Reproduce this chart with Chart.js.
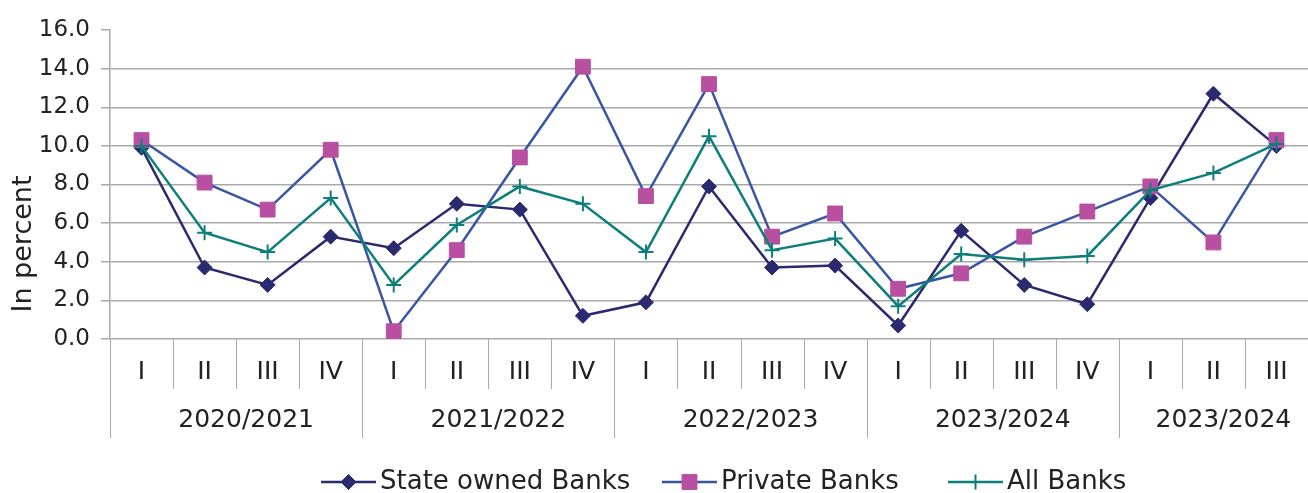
<!DOCTYPE html>
<html>
<head>
<meta charset="utf-8">
<script src="https://cdn.jsdelivr.net/npm/chart.js@4.4.1/dist/chart.umd.min.js"></script>
<style>
html,body{margin:0;padding:0;background:#ffffff;overflow:hidden;}
#wrap{width:1308px;height:493px;position:relative;}
</style>
</head>
<body>
<div id="wrap"><canvas id="c" width="1308" height="493"></canvas></div>
<script>
const quarters = ['I','II','III','IV','I','II','III','IV','I','II','III','IV','I','II','III','IV','I','II','III'];
const groupLabels = ['2020/2021','2021/2022','2022/2023','2023/2024','2023/2024'];
const groupSizes = [4,4,4,4,3];
const stateOwned   = [9.9,3.7,2.8,5.3,4.7,7.0,6.7,1.2,1.9,7.9,3.7,3.8,0.7,5.6,2.8,1.8,7.3,12.7,10.0];
const privateBanks = [10.3,8.1,6.7,9.8,0.4,4.6,9.4,14.1,7.4,13.2,5.3,6.5,2.6,3.4,5.3,6.6,7.9,5.0,10.3];
const allBanks     = [10.0,5.5,4.5,7.3,2.8,5.9,7.9,7.0,4.5,10.5,4.6,5.2,1.7,4.4,4.1,4.3,7.7,8.6,10.1];
const seriesNames  = ['State owned Banks','Private Banks','All Banks'];
const yMin = 0, yMax = 16, yStep = 2;
const yTitle = 'In percent';

const FONT = 'DejaVu Sans';
const TEXT = '#222222';
const GRID = '#a9a9a9';

const groupAxis = {
  id: 'groupAxis',
  afterDraw(chart) {
    const {ctx, chartArea: ca, scales: {x}} = chart;
    const half = (x.getPixelForValue(1) - x.getPixelForValue(0)) / 2;
    ctx.save();
    ctx.strokeStyle = GRID;
    ctx.lineWidth = 1;
    const qBottom = ca.bottom + 50, gBottom = ca.bottom + 99;
    const groupStart = new Set();
    let acc = 0;
    groupSizes.forEach(s => { groupStart.add(acc); acc += s; });
    groupStart.add(acc);
    for (let i = 0; i <= quarters.length; i++) {
      const px = Math.round(x.getPixelForValue(i) - half) + 0.5;
      ctx.beginPath();
      ctx.moveTo(px, ca.bottom);
      ctx.lineTo(px, groupStart.has(i) ? gBottom : qBottom);
      ctx.stroke();
    }
    ctx.fillStyle = TEXT;
    ctx.textAlign = 'center';
    ctx.textBaseline = 'middle';
    ctx.font = '25px "' + FONT + '"';
    quarters.forEach((q, i) => ctx.fillText(q, x.getPixelForValue(i), ca.bottom + 33));
    acc = 0;
    groupLabels.forEach((g, gi) => {
      const a = x.getPixelForValue(acc) - half;
      const b = x.getPixelForValue(acc + groupSizes[gi] - 1) + half;
      ctx.fillText(g, (a + b) / 2 + 10, ca.bottom + 81);
      acc += groupSizes[gi];
    });
    ctx.save();
    ctx.translate(24, ca.bottom - 95);
    ctx.rotate(-Math.PI / 2);
    ctx.font = '27px "' + FONT + '"';
    ctx.fillText(yTitle, 0, 0);
    ctx.restore();
    const legendX = [321, 662, 948];
    const ly = 482;
    chart.data.datasets.forEach((ds, i) => {
      const sx = legendX[i];
      ctx.strokeStyle = ds.borderColor;
      ctx.lineWidth = ds.borderWidth;
      ctx.beginPath();
      ctx.moveTo(sx, ly);
      ctx.lineTo(sx + 55, ly);
      ctx.stroke();
      ctx.fillStyle = ds.pointBackgroundColor;
      ctx.strokeStyle = ds.pointBorderColor;
      ctx.lineWidth = ds.pointBorderWidth;
      Chart.helpers.drawPoint(ctx, {pointStyle: ds.pointStyle, radius: ds.pointRadius, rotation: 0, borderWidth: ds.pointBorderWidth}, sx + 27.5, ly);
      ctx.fillStyle = TEXT;
      ctx.textAlign = 'left';
      ctx.font = '26px "' + FONT + '"';
      ctx.fillText(ds.label, sx + 59, ly);
    });
    ctx.restore();
  }
};

new Chart(document.getElementById('c'), {
  type: 'line',
  data: {
    labels: quarters,
    datasets: [
      {label: seriesNames[0], data: stateOwned, borderColor: '#2b2a6e', backgroundColor: '#2b2a6e',
       pointBackgroundColor: '#2b2a6e', pointBorderColor: '#2b2a6e', pointStyle: 'rectRot',
       pointRadius: 7.5, pointBorderWidth: 1, borderWidth: 2.5, order: 3, tension: 0},
      {label: seriesNames[1], data: privateBanks, borderColor: '#3b55a5', backgroundColor: '#b84fa1',
       pointBackgroundColor: '#b84fa1', pointBorderColor: '#b84fa1', pointStyle: 'rect',
       pointRadius: 10.5, pointBorderWidth: 1, borderWidth: 2.5, order: 2, tension: 0},
      {label: seriesNames[2], data: allBanks, borderColor: '#0d7f7b', backgroundColor: '#0d7f7b',
       pointBackgroundColor: '#0d7f7b', pointBorderColor: '#0d7f7b', pointStyle: 'cross',
       pointRadius: 7.5, pointBorderWidth: 2, borderWidth: 2.5, order: 1, tension: 0}
    ]
  },
  options: {
    responsive: false,
    animation: false,
    layout: {autoPadding: false, padding: {left: 0, right: 0, top: 30, bottom: 0}},
    plugins: {legend: {display: false}, tooltip: {enabled: false}},
    scales: {
      x: {
        offset: true,
        grid: {display: false},
        border: {display: false},
        ticks: {display: false},
        afterFit(scale) { scale.height = 154; }
      },
      y: {
        min: yMin, max: yMax,
        ticks: {stepSize: yStep, color: TEXT, font: {family: FONT, size: 23}, padding: 11,
                callback: v => Number(v).toFixed(1)},
        grid: {color: c => (c.tick && c.tick.value === yMax) ? 'rgba(0,0,0,0)' : GRID,
               tickColor: GRID, tickLength: 9, lineWidth: 1.5},
        border: {display: true, color: GRID, width: 1.5},
        afterFit(scale) { scale.width = 110; }
      }
    }
  },
  plugins: [groupAxis]
});
</script>
</body>
</html>
